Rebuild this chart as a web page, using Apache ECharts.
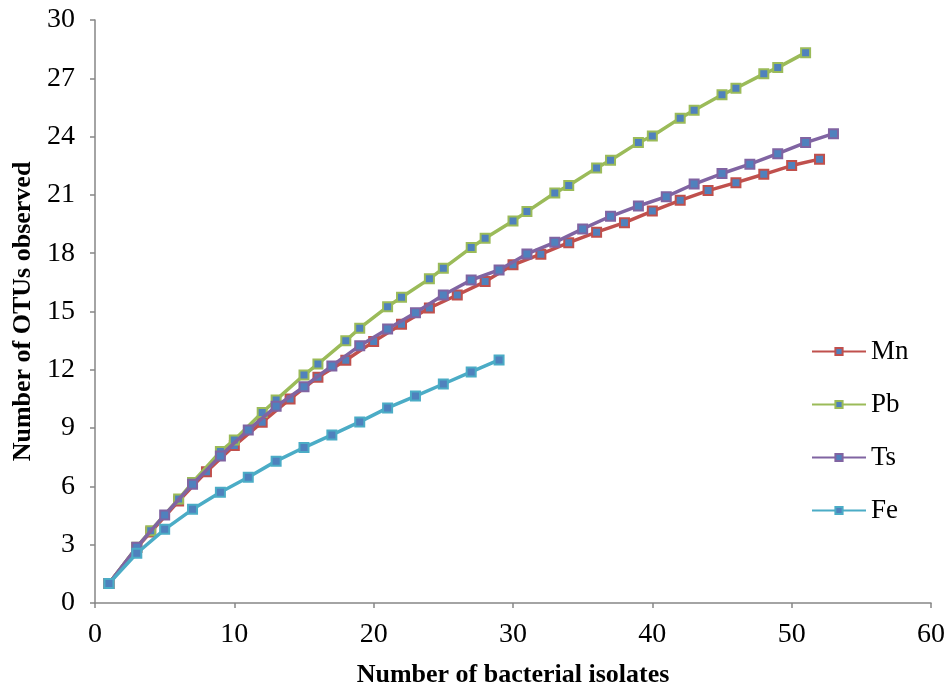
<!DOCTYPE html>
<html>
<head>
<meta charset="utf-8">
<script src="https://cdn.jsdelivr.net/npm/echarts@6/dist/echarts.min.js"></script>
<style>
  html, body { margin: 0; padding: 0; background: #fff; }
  #chart { width: 952px; height: 693px; }
</style>
</head>
<body>
<div id="chart"></div>
<script>
// values
var mnX = [1, 3, 4, 6, 8, 10, 12, 14, 16, 18, 20, 22, 24, 26, 28, 30, 32, 34, 36, 38, 40, 42, 44, 46, 48, 50, 52];
var mnY = [1.0, 2.85, 3.65, 5.25, 6.76, 8.10, 9.30, 10.50, 11.62, 12.49, 13.45, 14.34, 15.18, 15.85, 16.54, 17.40, 17.95, 18.54, 19.08, 19.57, 20.17, 20.72, 21.22, 21.63, 22.06, 22.51, 22.84];

var pbX = [1, 3, 4, 6, 7, 9, 10, 12, 13, 15, 16, 18, 19, 21, 22, 24, 25, 27, 28, 30, 31, 33, 34, 36, 37, 39, 40, 42, 43, 45, 46, 48, 49, 51];
var pbY = [1.0, 2.87, 3.72, 5.35, 6.20, 7.79, 8.39, 9.80, 10.45, 11.73, 12.30, 13.50, 14.14, 15.25, 15.73, 16.68, 17.22, 18.29, 18.77, 19.66, 20.14, 21.10, 21.48, 22.39, 22.78, 23.69, 24.03, 24.95, 25.36, 26.15, 26.49, 27.23, 27.55, 28.32];

var tsX = [1, 3, 5, 7, 9, 11, 13, 15, 17, 19, 21, 23, 25, 27, 29, 31, 33, 35, 37, 39, 41, 43, 45, 47, 49, 51, 53];
var tsY = [1.0, 2.87, 4.53, 6.11, 7.57, 8.90, 10.12, 11.13, 12.20, 13.24, 14.10, 14.94, 15.85, 16.62, 17.14, 17.96, 18.56, 19.25, 19.90, 20.43, 20.91, 21.56, 22.10, 22.58, 23.12, 23.69, 24.15];

var feX = [1, 3, 5, 7, 9, 11, 13, 15, 17, 19, 21, 23, 25, 27, 29];
var feY = [1.0, 2.56, 3.79, 4.82, 5.70, 6.47, 7.30, 8.00, 8.65, 9.32, 10.04, 10.65, 11.27, 11.89, 12.51];

var seriesNames = ['Mn', 'Pb', 'Ts', 'Fe'];
var seriesColors = ['#c0504d', '#9bbb59', '#8064a2', '#4bacc6'];

function pairs(xs, ys) {
    var out = [];
    for (var i = 0; i < xs.length; i++) out.push([xs[i], ys[i]]);
    return out;
}

var allData = [pairs(mnX, mnY), pairs(pbX, pbY), pairs(tsX, tsY), pairs(feX, feY)];

var font = '"Liberation Serif", "Times New Roman", serif';
var axisGrey = '#868686';

var series = seriesNames.map(function (name, i) {
    return {
        name: name,
        type: 'line',
        data: allData[i],
        symbol: 'rect',
        symbolSize: 9,
        lineStyle: { color: seriesColors[i], width: 3.5 },
        itemStyle: { color: '#4f81bd', borderColor: seriesColors[i], borderWidth: 2 },
        emphasis: { disabled: true },
        z: 2 + i
    };
});

var chart = echarts.init(document.getElementById('chart'));
var option = {
    animation: false,
    color: seriesColors,
    grid: { left: 95, right: 21, top: 20, bottom: 89 },
    legend: {
        orient: 'vertical',
        left: 806,
        top: 333,
        itemWidth: 54,
        itemHeight: 9,
        itemGap: 26,
        textStyle: { fontFamily: font, fontSize: 27, color: '#000' },
        data: seriesNames
    },
    xAxis: {
        type: 'value',
        min: 0,
        max: 60,
        interval: 10,
        name: 'Number of bacterial isolates',
        nameLocation: 'middle',
        nameGap: 59,
        nameTextStyle: { fontFamily: font, fontSize: 26, fontWeight: 'bold', color: '#000' },
        axisLine: { lineStyle: { color: axisGrey, width: 1.5 } },
        axisTick: { length: 5, lineStyle: { color: axisGrey, width: 1.5 } },
        axisLabel: { fontFamily: font, fontSize: 28, color: '#000', margin: 18 },
        splitLine: { show: false }
    },
    yAxis: {
        type: 'value',
        min: 0,
        max: 30,
        interval: 3,
        name: 'Number of OTUs observed',
        nameLocation: 'middle',
        nameGap: 54,
        nameTextStyle: { fontFamily: font, fontSize: 26, fontWeight: 'bold', color: '#000' },
        axisLine: { show: true, lineStyle: { color: axisGrey, width: 1.5 } },
        axisTick: { show: true, length: 5, lineStyle: { color: axisGrey, width: 1.5 } },
        axisLabel: { fontFamily: font, fontSize: 28, color: '#000', margin: 20 },
        splitLine: { show: false }
    },
    series: series
};
chart.setOption(option);
</script>
</body>
</html>
